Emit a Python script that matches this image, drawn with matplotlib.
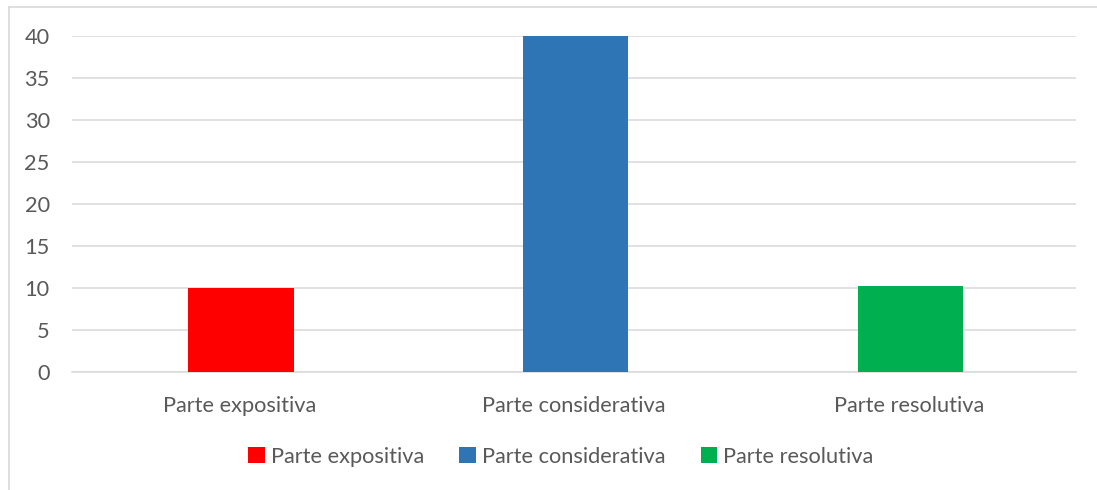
import matplotlib
matplotlib.use("Agg")
import matplotlib.pyplot as plt
from matplotlib.lines import Line2D

categories = ["Parte expositiva", "Parte considerativa", "Parte resolutiva"]
values = [10.0, 40.0, 10.2]
colors = ["#FF0000", "#2E75B6", "#00B050"]
yticks = [0, 5, 10, 15, 20, 25, 30, 35, 40]

plt.rcParams['font.family'] = ['Lato', 'DejaVu Sans']
txt = "#595959"
grid = "#D9D9D9"
fs = 15.7

W, H = 1097, 490
fig = plt.figure(figsize=(W/100, H/100), dpi=100)
ax = fig.add_axes([72/W, 1-372/H, (1076-72)/W, (372-36)/H])

x = list(range(len(categories)))
bars = []
for i, (c, v, col) in enumerate(zip(categories, values, colors)):
    b = ax.bar(i + 0.005, v, width=0.314, color=col, label=c, zorder=3)
    bars.append(b)

ax.set_xlim(-0.5, 2.5)
ax.set_ylim(0, 40)
ax.set_yticks(yticks)
ax.set_yticklabels([str(t) for t in yticks])
ax.set_xticks(x)
ax.set_xticklabels(categories)
ax.yaxis.grid(True, color=grid, linewidth=1.1, zorder=0)
ax.set_axisbelow(True)
for s in ["top", "right", "left"]:
    ax.spines[s].set_visible(False)
ax.spines["bottom"].set_color(grid)
ax.spines["bottom"].set_linewidth(1.1)
ax.tick_params(axis="both", length=0, labelsize=fs, colors=txt)
ax.tick_params(axis="y", pad=16)
ax.tick_params(axis="x", pad=17)

fig.legend(handles=[b for b in bars], labels=categories, loc="center",
           bbox_to_anchor=(561/W, 1-457/H), ncol=3, frameon=False,
           fontsize=fs, labelcolor=txt, handlelength=0.75, handleheight=0.75,
           handletextpad=0.3, columnspacing=1.6)

# outer chart border (left and top)
fig.add_artist(Line2D([8.5/W, 8.5/W], [0, 1-7/H], color=grid, linewidth=1.2, transform=fig.transFigure))
fig.add_artist(Line2D([8.5/W, 1], [1-7/H, 1-7/H], color=grid, linewidth=1.2, transform=fig.transFigure))

fig.savefig("out.png", dpi=100)
